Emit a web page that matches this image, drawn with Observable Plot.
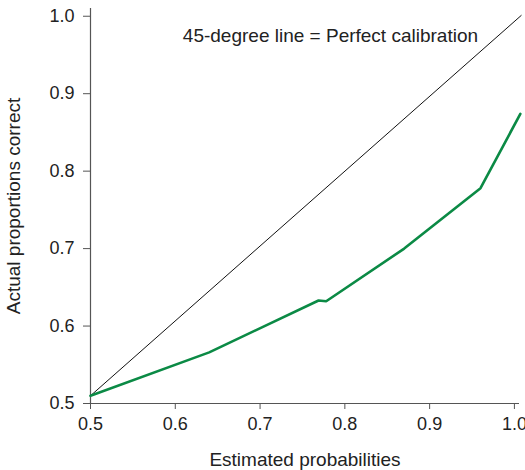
<!DOCTYPE html>
<html>
<head>
<meta charset="utf-8">
<script src="https://cdn.jsdelivr.net/npm/d3@7"></script>
<script src="https://cdn.jsdelivr.net/npm/@observablehq/plot@0.6"></script>
<style>
  html, body { margin: 0; padding: 0; background: #fff; }
  svg { display: block; }
</style>
</head>
<body>
<div id="chart"></div>
<script>
// Data
const estimated = [0.50, 0.64, 0.769, 0.778, 0.87, 0.96, 1.007];
const actual    = [0.510, 0.566, 0.633, 0.632, 0.700, 0.778, 0.874];
const diagonalX = [0.5, 1.008];
const diagonalY = [0.510, 1.001];
const xTicks = [0.5, 0.6, 0.7, 0.8, 0.9, 1.0];
const yTicks = [0.5, 0.6, 0.7, 0.8, 0.9, 1.0];
const annotationText = ["45-degree line = Perfect calibration"];
const annotationX = [0.783];
const annotationY = [0.974];

const curve = estimated.map((x, i) => ({x, y: actual[i]}));
const diagonal = diagonalX.map((x, i) => ({x, y: diagonalY[i]}));
const annotation = annotationText.map((t, i) => ({t, x: annotationX[i], y: annotationY[i]}));

const plot = Plot.plot({
  width: 525,
  height: 470,
  marginLeft: 90,
  marginRight: 6,
  marginTop: 8,
  marginBottom: 67,
  style: {fontFamily: "'Liberation Sans', Arial, Helvetica, sans-serif", fontSize: "18px", color: "#222", background: "#fff", overflow: "hidden"},
  x: {domain: [0.5, 1.006]},
  y: {domain: [0.5, 1.010]},
  marks: [
    Plot.ruleY([0.5], {stroke: "#555", strokeWidth: 1.2}),
    Plot.ruleX([0.5], {stroke: "#555", strokeWidth: 1.2}),
    Plot.axisX({ticks: xTicks, tickFormat: d3.format(".1f"), tickSize: 6, tickPadding: 8, stroke: "#555",
      fontSize: 18, fill: "#222",
      label: null}),
    Plot.axisX({ticks: [], label: "Estimated probabilities", labelAnchor: "center", labelOffset: 62, labelArrow: "none", fontSize: 19, fill: "#222"}),
    Plot.axisY({ticks: yTicks, tickFormat: d3.format(".1f"), tickSize: 7, tickPadding: 9, stroke: "#555",
      fontSize: 18, fill: "#222",
      label: null}),
    Plot.axisY({ticks: [], label: "Actual proportions correct", labelAnchor: "center", labelOffset: 84, labelArrow: "none", fontSize: 19, fill: "#222"}),
    Plot.line(diagonal, {x: "x", y: "y", stroke: "#111", strokeWidth: 1}),
    Plot.line(curve, {x: "x", y: "y", stroke: "#0b8a45", strokeWidth: 2.6, strokeLinejoin: "miter"}),
    Plot.text(annotation, {x: "x", y: "y", text: "t", fontSize: 19, fill: "#222", textAnchor: "middle"})
  ]
});
document.getElementById("chart").appendChild(plot);
</script>
</body>
</html>
